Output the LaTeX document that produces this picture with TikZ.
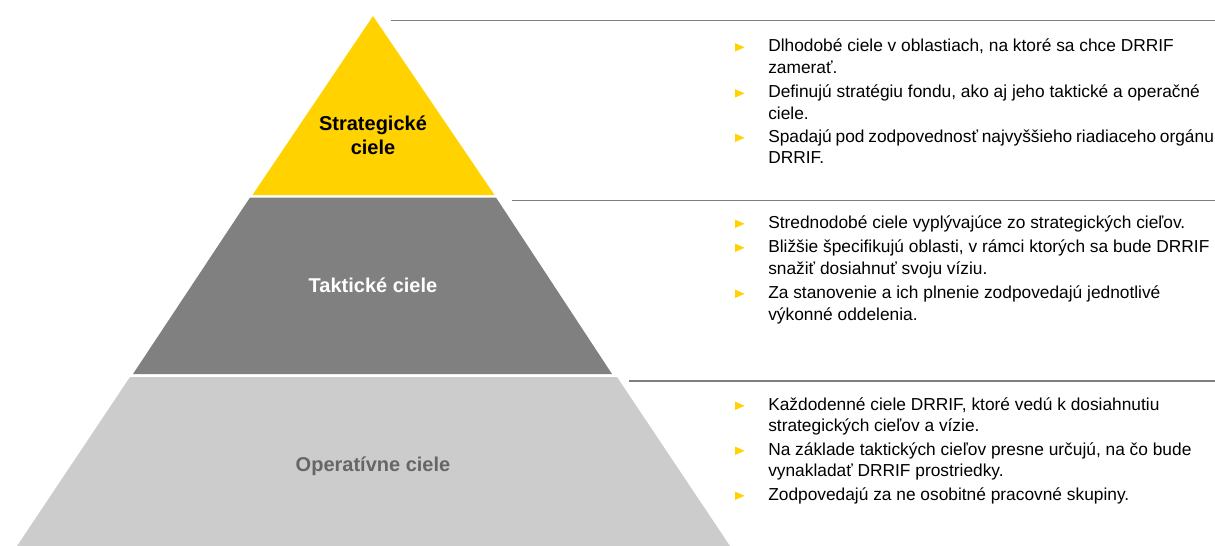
\documentclass[tikz,border=0pt]{standalone}
\usepackage{fontspec}
\setmainfont{Liberation Sans}
\usetikzlibrary{positioning}
\definecolor{eyyellow}{HTML}{FFD200}
\definecolor{tacgray}{HTML}{808080}
\definecolor{opgray}{HTML}{CCCCCC}
\definecolor{optext}{HTML}{666666}
\definecolor{rulegray}{HTML}{7F7F7F}
\tikzset{
  lvllabel/.style={font=\bfseries\fontsize{15}{18}\selectfont,align=center,inner sep=0pt},
  sep/.style={rulegray,line width=1.1pt},
  item/.style={anchor=base west,inner sep=0pt,align=left,font=\fontsize{13}{16.1}\selectfont},
}
\newcommand{\ybullet}[2]{% x, baseline y
  \fill[eyyellow] (#1-5,#2) -- (#1+4.5,#2-4.2) -- (#1-5,#2-8.4) -- cycle;
}

\begin{document}
\begin{tikzpicture}[x=0.75pt,y=-0.75pt]
  \useasboundingbox (0,0) rectangle (1215,546);
  % pyramid levels
  \fill[eyyellow] (373,16) -- (494.5,195) -- (252.5,195) -- cycle;
  \fill[tacgray] (250,197.5) -- (496,197.5) -- (612,374) -- (133,374) -- cycle;
  \fill[opgray] (130,377) -- (617,377) -- (730,546) -- (17,546) -- cycle;
  \node[lvllabel] (strat) at (373,135) {Strategické\\ciele};
  \node[lvllabel,white] (takt) at (373,285) {Taktické ciele};
  \node[lvllabel,optext] (oper) at (373,466.5) {Operatívne ciele};
  % separators
  \draw[sep] (391,20.5) -- (1215,20.5);
  \draw[sep] (512,200.5) -- (1215,200.5);
  \draw[sep] (629,381) -- (1215,381);
  % bullet texts (first / last baseline)
  \foreach \n/\b/\l/\txt in {
    s1/51.5/73/{Dlhodobé ciele v oblastiach, na ktoré sa chce DRRIF\\zamerať.},
    s2/97.5/119/{Definujú stratégiu fondu, ako aj jeho taktické a operačné\\ciele.},
    s3/142/163.5/{{\spaceskip=0.22em plus 0.1em\relax Spadajú pod zodpovednosť najvyššieho riadiaceho orgánu}\\DRRIF.},
    t1/228/228/{Strednodobé ciele vyplývajúce zo strategických cieľov.},
    t2/252/274/{Bližšie špecifikujú oblasti, v rámci ktorých sa bude DRRIF\\snažiť dosiahnuť svoju víziu.},
    t3/298/320/{Za stanovenie a ich plnenie zodpovedajú jednotlivé\\výkonné oddelenia.},
    o1/410/431.5/{Každodenné ciele DRRIF, ktoré vedú k dosiahnutiu\\strategických cieľov a vízie.},
    o2/455/476.5/{Na základe taktických cieľov presne určujú, na čo bude\\vynakladať DRRIF prostriedky.},
    o3/500/500/{Zodpovedajú za ne osobitné pracovné skupiny.}}{
    \ybullet{740}{\b}
    \node[item] (\n) at (768,\l) {\txt};
  }
\end{tikzpicture}
\end{document}
